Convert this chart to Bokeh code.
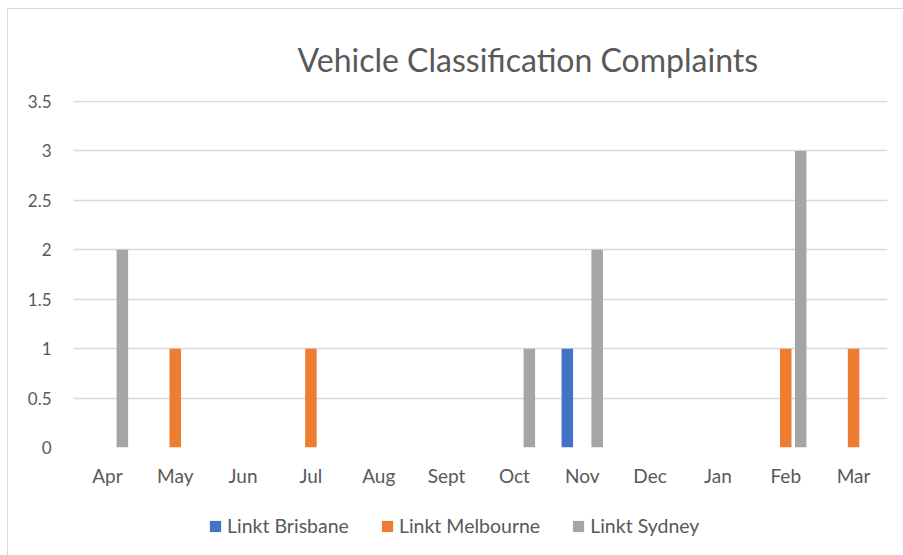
from bokeh.plotting import figure
from bokeh.models import ColumnDataSource, FactorRange, Legend, LegendItem, Range1d, FixedTicker
from bokeh.layouts import column
from bokeh.transform import dodge
from bokeh.embed import file_html
from bokeh.resources import INLINE

months = ["Apr", "May", "Jun", "Jul", "Aug", "Sept", "Oct", "Nov", "Dec", "Jan", "Feb", "Mar"]
brisbane = [0, 0, 0, 0, 0, 0, 0, 1, 0, 0, 0, 0]
melbourne = [0, 1, 0, 1, 0, 0, 0, 0, 0, 0, 1, 1]
sydney = [2, 0, 0, 0, 0, 0, 1, 2, 0, 0, 3, 0]
series_names = ["Linkt Brisbane", "Linkt Melbourne", "Linkt Sydney"]
colors = ["#4472C4", "#ED7D31", "#A5A5A5"]
y_ticks = [0, 0.5, 1, 1.5, 2, 2.5, 3, 3.5]
y_tick_labels = ["0", "0.5", "1", "1.5", "2", "2.5", "3", "3.5"]

FONT = "Lato"
TXT = "#595959"
keys = ["brisbane", "melbourne", "sydney"]
offsets = [-0.22, 0.0, 0.22]

source = ColumnDataSource(dict(month=months, brisbane=brisbane, melbourne=melbourne, sydney=sydney))

p = figure(width=903, height=505, x_range=FactorRange(*months), y_range=Range1d(0, 3.51),
           output_backend="svg", toolbar_location=None,
           min_border_left=73, min_border_right=16, min_border_top=100, min_border_bottom=58)
p.outline_line_color = None
p.background_fill_color = "white"
p.border_fill_color = None

p.title.text = "Vehicle Classification Complaints"
p.title.text_font = FONT
p.title.text_font_size = "32px"
p.title.text_font_style = "normal"
p.title.text_color = TXT
p.title.align = "left"
p.title.offset = 224
p.title.standoff = 44

for key, off, col in zip(keys, offsets, colors):
    p.vbar(x=dodge("month", off, range=p.x_range), top=key, width=0.17, source=source,
           fill_color=col, line_color=None)

p.yaxis.ticker = FixedTicker(ticks=y_ticks)
p.yaxis.major_label_overrides = {t: l for t, l in zip(y_ticks, y_tick_labels)}
for ax in (p.xaxis, p.yaxis):
    ax.axis_line_color = None
    ax.major_tick_line_color = None
    ax.minor_tick_line_color = None
    ax.major_label_text_font = FONT
    ax.major_label_text_color = TXT
p.yaxis.major_label_text_font_size = "17px"
p.xaxis.major_label_text_font_size = "19px"
p.yaxis.major_label_standoff = 16
p.xaxis.major_label_standoff = 10
p.xaxis.group_text_font_size = "0px"

p.xgrid.grid_line_color = None
p.ygrid.grid_line_color = "#d9d9d9"
p.ygrid.grid_line_width = 1.5

# legend strip below the chart (same series, drawn out of view so only the legend shows)
lf = figure(width=903, height=50, x_range=FactorRange(*months), y_range=Range1d(10, 11),
            output_backend="svg", toolbar_location=None,
            min_border_left=0, min_border_right=0, min_border_top=0, min_border_bottom=0)
lf.axis.visible = False
lf.grid.grid_line_color = None
lf.outline_line_color = None
lf.background_fill_color = None
lf.border_fill_color = None
lrs = []
for key, off, col in zip(keys, offsets, colors):
    lrs.append(lf.vbar(x=dodge("month", off, range=lf.x_range), top=key, width=0.17, source=source,
                       fill_color=col, line_color=None))

legend = Legend(items=[LegendItem(label=n, renderers=[r]) for n, r in zip(series_names, lrs)],
                orientation="horizontal", location=(135, 18))
legend.label_text_font = FONT
legend.label_text_font_size = "19.5px"
legend.label_text_color = TXT
legend.glyph_width = 14
legend.glyph_height = 14
legend.spacing = 31
legend.label_standoff = 5
legend.border_line_color = None
legend.background_fill_alpha = 0
legend.margin = 0
legend.padding = 0
lf.add_layout(legend)

layout = column(p, lf, spacing=0)
layout.styles = {
    "background-color": "white",
    "background-image": "linear-gradient(#d9d9d9, #d9d9d9), linear-gradient(#d9d9d9, #d9d9d9)",
    "background-size": "896px 1px, 1px 547px",
    "background-position": "7px 8px, 7px 8px",
    "background-repeat": "no-repeat, no-repeat",
}
open("out.html", "w").write(file_html(layout, INLINE))
